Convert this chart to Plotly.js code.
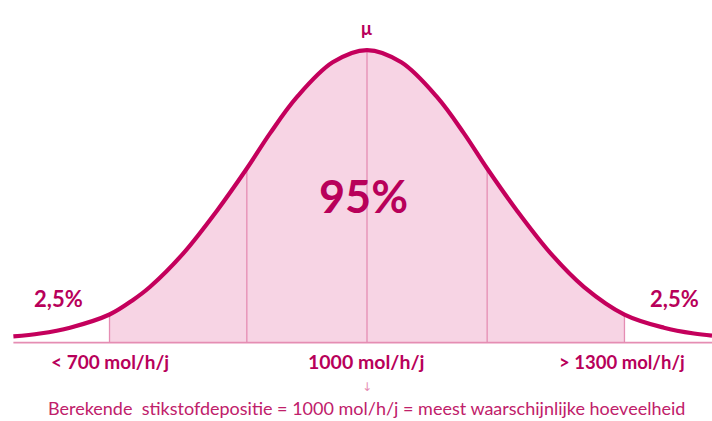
<!DOCTYPE html>
<html>
<head>
<meta charset="utf-8">
<script src="https://cdn.plot.ly/plotly-3.0.1.min.js"></script>
<style>
  html, body { margin: 0; padding: 0; background: #ffffff; }
  #chart { width: 712px; height: 421px; }
</style>
</head>
<body>
<div id="chart"></div>
<script>
// Curve: deposition (mol/h/j) vs relative density (peak = 1)
const depositie = [588, 619, 654, 700, 727, 747, 786, 825, 860, 887, 918, 960, 1000,
                   1040, 1082, 1113, 1140, 1175, 1214, 1253, 1300, 1346, 1381, 1402];
const dichtheid = [0.021, 0.031, 0.051, 0.096, 0.145, 0.19, 0.305, 0.45, 0.595, 0.715, 0.838, 0.958, 1.0,
                   0.958, 0.838, 0.715, 0.595, 0.45, 0.305, 0.19, 0.096, 0.051, 0.031, 0.024];

// Divider lines (interval bounds and ±1σ) with their height at the curve
const grenzen = [700, 860, 1000, 1140, 1300];
const grensHoogte = [0.096, 0.595, 1.0, 0.595, 0.096];

// 95% interval
const ondergrens = 700;
const bovengrens = 1300;
const gemiddelde = 1000;

// Labels
const pctMidden = "95%";
const pctStaart = "2,5%";
const labelLaag = "< 700 mol/h/j";
const labelMidden = "1000 mol/h/j";
const labelHoog = "> 1300 mol/h/j";
const onderschrift = "Berekende&nbsp;&nbsp;stikstofdepositie = 1000 mol/h/j = meest waarschijnlijke hoeveelheid";

const curveColor = "#c4005c";
const textColor = "#b8005a";
const fillColor = "#f7d4e4";
const lineColor = "#e58db3";

const xRange = [572.4, 1402];
const yRange = [-0.268, 1.171];

// fill region within interval
const fx = [], fy = [];
depositie.forEach((v, i) => { if (v >= ondergrens && v <= bovengrens) { fx.push(v); fy.push(dichtheid[i]); } });

const traces = [];
traces.push({
  x: fx, y: fy, type: "scatter", mode: "lines", fill: "tozeroy",
  fillcolor: fillColor, line: {color: "rgba(0,0,0,0)", width: 0, shape: "spline", smoothing: 1},
  hoverinfo: "skip", showlegend: false
});
grenzen.forEach((g, i) => {
  traces.push({
    x: [g, g], y: [0, grensHoogte[i]], type: "scatter", mode: "lines",
    line: {color: lineColor, width: 1.3}, hoverinfo: "skip", showlegend: false
  });
});
traces.push({
  x: [depositie[0], xRange[1]], y: [0, 0], type: "scatter", mode: "lines",
  line: {color: lineColor, width: 1.8}, hoverinfo: "skip", showlegend: false
});
traces.push({
  x: depositie, y: dichtheid, type: "scatter", mode: "lines",
  line: {color: curveColor, width: 4.2, shape: "spline", smoothing: 1},
  hoverinfo: "skip", showlegend: false
});

const boldFont = (size, color) => ({family: "Lato, 'Open Sans', sans-serif", size: size, color: color, weight: 700});

const annotations = [
  {x: gemiddelde, y: 1.0, yshift: 22, text: "μ", showarrow: false, font: {family: "Lato, sans-serif", size: 18, color: textColor, weight: 700}},
  {x: gemiddelde - 4, y: 0.5, text: pctMidden, showarrow: false, font: boldFont(45, textColor)},
  {x: 641, y: 0.15, text: pctStaart, showarrow: false, font: boldFont(22, textColor)},
  {x: 1358, y: 0.15, text: pctStaart, showarrow: false, font: boldFont(22, textColor)},
  {x: 700, y: -0.065, text: labelLaag, showarrow: false, font: boldFont(19, textColor)},
  {x: gemiddelde, y: -0.065, text: labelMidden, showarrow: false, font: boldFont(19.5, textColor)},
  {x: 1297, y: -0.065, text: labelHoog, showarrow: false, font: boldFont(18.5, textColor)},
  {x: gemiddelde, y: -0.145, yshift: -2, text: "↓", showarrow: false, font: {family: "DejaVu Sans, sans-serif", size: 12, color: lineColor}},
  {x: 999, y: -0.225, text: onderschrift, showarrow: false, font: {family: "Lato, sans-serif", size: 18, color: "#c0206a"}}
];

const layout = {
  width: 712, height: 421,
  margin: {l: 0, r: 0, t: 0, b: 0, pad: 0},
  paper_bgcolor: "#ffffff", plot_bgcolor: "#ffffff",
  xaxis: {range: xRange, visible: false, fixedrange: true},
  yaxis: {range: yRange, visible: false, fixedrange: true},
  showlegend: false,
  annotations: annotations
};

Plotly.newPlot("chart", traces, layout, {staticPlot: true, displayModeBar: false});
</script>
</body>
</html>
